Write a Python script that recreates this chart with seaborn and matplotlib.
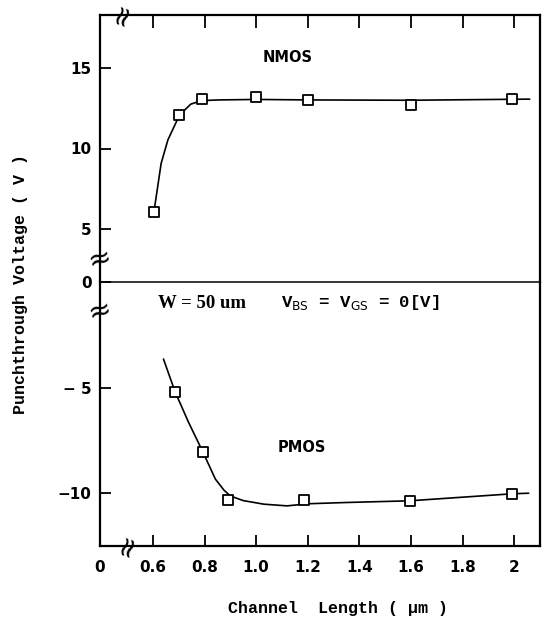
import numpy as np
import pandas as pd
import matplotlib
matplotlib.use("Agg")
import matplotlib.pyplot as plt
import seaborn as sns

# ---- data ----
nmos_len = [0.604, 0.703, 0.790, 0.999, 1.202, 1.600, 1.990]
nmos_v = [6.06, 12.08, 13.07, 13.18, 13.01, 12.70, 13.06]
nmos_curve_len = [0.604, 0.632, 0.658, 0.703, 0.747, 0.790, 0.857, 1.000, 1.200, 1.600, 2.060]
nmos_curve_v = [6.06, 9.08, 10.53, 12.08, 12.76, 12.98, 13.02, 13.05, 13.02, 13.00, 13.07]

pmos_len = [0.686, 0.793, 0.891, 1.184, 1.595, 1.990]
pmos_v = [-5.2, -8.03, -10.32, -10.33, -10.36, -10.02]
pmos_curve_len = [0.641, 0.686, 0.738, 0.793, 0.842, 0.875, 0.900, 0.950, 1.030, 1.120, 1.200, 1.350, 1.595, 1.990, 2.056]
pmos_curve_v = [-3.65, -5.2, -6.64, -8.03, -9.33, -9.85, -10.13, -10.35, -10.52, -10.60, -10.50, -10.44, -10.36, -10.03, -10.00]

x_ticks = [0.395, 0.6, 0.8, 1.0, 1.2, 1.4, 1.6, 1.8, 2.0]
x_ticklabels = ["0", "0.6", "0.8", "1.0", "1.2", "1.4", "1.6", "1.8", "2"]
y_top_ticks = [5, 10, 15]
y_top_labels = ["5", "10", "15"]
y_bot_ticks = [0, -5, -10]
y_bot_labels = ["0", "\u2212 5", "\u221210"]

sns.set_theme(style="white")
plt.rcParams["font.family"] = ["DejaVu Sans"]
plt.rcParams["text.color"] = "black"
plt.rcParams["xtick.color"] = "black"
plt.rcParams["ytick.color"] = "black"
plt.rcParams["xtick.labelcolor"] = "black"
plt.rcParams["ytick.labelcolor"] = "black"

W, H = 547, 626
fig = plt.figure(figsize=(W / 100, H / 100), dpi=100)
fig.patch.set_facecolor("white")

def fpos(left, top, right, bottom):
    return [left / W, 1 - bottom / H, (right - left) / W, (bottom - top) / H]

ax_b = fig.add_axes(fpos(100, 282, 540, 546))
ax_t = fig.add_axes(fpos(100, 15, 540, 282))

XLIM = (0.395, 2.10)

# NMOS
sns.lineplot(x=nmos_curve_len, y=nmos_curve_v, ax=ax_t, color="black", lw=1.2,
             sort=False, estimator=None)
sns.scatterplot(x=nmos_len, y=nmos_v, ax=ax_t, marker="s", s=55,
                facecolor="white", edgecolor="black", linewidth=1.3, zorder=5)
# PMOS
sns.lineplot(x=pmos_curve_len, y=pmos_curve_v, ax=ax_b, color="black", lw=1.2,
             sort=False, estimator=None)
sns.scatterplot(x=pmos_len, y=pmos_v, ax=ax_b, marker="s", s=55,
                facecolor="white", edgecolor="black", linewidth=1.3, zorder=5)

tick_font = dict(fontsize=11, fontweight="bold", color="black")

for ax in (ax_t, ax_b):
    ax.set_xlim(*XLIM)
    ax.patch.set_alpha(0)
    for sp in ax.spines.values():
        sp.set_color("black")
        sp.set_linewidth(1.6)
    ax.set_xlabel("")
    ax.set_ylabel("")

# top axes
ax_t.set_ylim(1.7, 18.3)
ax_t.set_xticks(x_ticks[1:])
ax_t.set_yticks(y_top_ticks)
ax_t.set_yticklabels(y_top_labels, **tick_font)
ax_t.tick_params(axis="x", top=True, bottom=False, labelbottom=False, labeltop=False,
                 direction="in", length=9, width=1.3, color="black")
ax_t.tick_params(axis="y", left=True, direction="in", length=8, width=1.3,
                 color="black", pad=6)
ax_t.spines["bottom"].set_linewidth(1.1)
ax_t.spines["bottom"].set_zorder(6)

# bottom axes
ax_b.set_ylim(-12.5, 0)
ax_b.spines["top"].set_visible(False)
ax_b.set_xticks(x_ticks)
ax_b.set_xticklabels(x_ticklabels, **tick_font)
ax_b.set_yticks(y_bot_ticks)
ax_b.set_yticklabels(y_bot_labels, **tick_font)
ax_b.tick_params(axis="x", bottom=True, top=False, direction="in", length=8,
                 width=1.3, color="black", pad=10)
ax_b.tick_params(axis="y", left=True, direction="in", length=8, width=1.3,
                 color="black", pad=6)

# labels
mono = ["Liberation Mono", "DejaVu Sans Mono"]
fig.text(338 / W, 1 - 608 / H, "Channel  Length ( \u00b5m )", ha="center", va="center",
         family=mono, fontsize=12, fontweight="bold")
fig.text(21 / W, 1 - 284 / H, "Punchthrough Voltage ( V )", ha="center", va="center",
         rotation=90, family=mono, fontsize=12, fontweight="bold")

fig.text(288 / W, 1 - 57 / H, "NMOS", ha="center", va="center", fontsize=10.5,
         fontweight="bold")
fig.text(302 / W, 1 - 448 / H, "PMOS", ha="center", va="center", fontsize=10.5,
         fontweight="bold")
fig.text(202 / W, 1 - 303 / H, "W = 50 um", ha="center", va="center",
         family=["Liberation Serif", "DejaVu Serif"], fontsize=13.5, fontweight="bold")
fig.text(360 / W, 1 - 303 / H, r"V$_{\mathrm{BS}}$ = V$_{\mathrm{GS}}$ = 0[V]",
         ha="center", va="center", family=mono, fontsize=12.5, fontweight="bold")

# axis break marks
brk = dict(ha="center", va="center", fontsize=20, color="black")
fig.text(99 / W, 1 - 259 / H, "\u2248", rotation=15, **brk)
fig.text(99 / W, 1 - 311 / H, "\u2248", rotation=15, **brk)
fig.text(122 / W, 1 - 15 / H, "\u2248", rotation=70, **brk)
fig.text(127 / W, 1 - 546 / H, "\u2248", rotation=70, **brk)

fig.savefig("out.png", dpi=100, facecolor="white")
